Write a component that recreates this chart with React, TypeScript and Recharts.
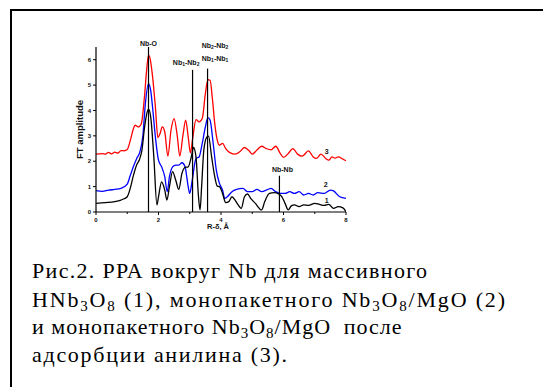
import React from 'react';
import { LineChart, Line, XAxis, YAxis, ReferenceLine, ReferenceDot, Label } from 'recharts';

// Sample 1: bulk HNb3O8 (black)
const sample1R = [0, 0.3, 0.6, 0.8, 0.9, 1.0, 1.1, 1.2, 1.3, 1.4, 1.47, 1.55, 1.62, 1.68, 1.75, 1.85, 1.95, 2.0, 2.1, 2.2, 2.27, 2.35, 2.45, 2.55, 2.65, 2.75, 2.85, 2.95, 3.05, 3.12, 3.2, 3.28, 3.33, 3.38, 3.45, 3.55, 3.6, 3.7, 3.8, 3.88, 3.95, 4.05, 4.15, 4.25, 4.35, 4.45, 4.55, 4.65, 4.75, 4.85, 4.95, 5.1, 5.3, 5.4, 5.55, 5.7, 5.85, 5.95, 6.05, 6.15, 6.25, 6.35, 6.5, 6.65, 6.8, 7.0, 7.15, 7.3, 7.45, 7.6, 7.75, 7.9, 8.0];
const sample1Amp = [0.34, 0.37, 0.41, 0.47, 0.52, 0.6, 0.95, 1.45, 1.85, 2.1, 2.44, 3.3, 3.85, 4.05, 3.75, 2.17, 0.28, 0.6, 1.19, 0.86, 0.47, 1.0, 1.59, 1.26, 0.89, 1.52, 1.76, 1.78, 2.17, 2.54, 2.17, 0.6, 0.08, 1.0, 2.44, 2.96, 2.99, 2.17, 1.39, 1.02, 1.0, 0.73, 0.37, 0.41, 0.6, 0.47, 0.28, 0.14, 0.6, 0.71, 0.54, 0.34, 0.08, 0.41, 0.73, 0.76, 0.71, 0.6, 0.34, 0.08, 0.24, 0.28, 0.21, 0.28, 0.26, 0.34, 0.3, 0.26, 0.3, 0.14, 0.21, 0.16, 0.01];

// Sample 2: single-layer Nb3O8/MgO (blue)
const sample2R = [0, 0.2, 0.4, 0.6, 0.8, 1.0, 1.1, 1.2, 1.3, 1.4, 1.5, 1.58, 1.68, 1.75, 1.82, 1.9, 2.0, 2.1, 2.2, 2.28, 2.35, 2.45, 2.55, 2.65, 2.75, 2.85, 2.95, 3.0, 3.08, 3.2, 3.3, 3.4, 3.5, 3.58, 3.65, 3.75, 3.85, 3.95, 4.05, 4.12, 4.2, 4.35, 4.5, 4.7, 4.85, 5.0, 5.15, 5.3, 5.5, 5.6, 5.75, 5.9, 6.05, 6.2, 6.35, 6.5, 6.65, 6.8, 6.95, 7.1, 7.3, 7.5, 7.6, 7.8, 8.0];
const sample2Amp = [0.84, 0.81, 0.86, 0.89, 0.93, 1.1, 1.45, 1.8, 2.1, 2.35, 3.0, 4.27, 5.06, 4.79, 4.0, 2.96, 2.04, 1.78, 1.39, 0.8, 1.39, 1.78, 1.85, 1.85, 1.94, 1.78, 1.0, 0.73, 1.26, 2.11, 2.17, 2.7, 3.35, 3.72, 3.62, 2.7, 1.65, 1.13, 0.86, 0.54, 0.6, 0.8, 0.89, 0.93, 0.8, 0.8, 0.89, 0.8, 0.89, 0.93, 0.8, 0.73, 0.73, 0.8, 0.73, 0.8, 0.67, 0.73, 0.67, 0.76, 0.73, 0.86, 0.83, 0.6, 0.54];

// Sample 3: Nb3O8/MgO after aniline adsorption (red)
const sample3R = [0, 0.2, 0.3, 0.4, 0.5, 0.6, 0.7, 0.8, 0.9, 1.0, 1.1, 1.2, 1.25, 1.35, 1.45, 1.55, 1.62, 1.68, 1.72, 1.8, 1.9, 1.98, 2.05, 2.12, 2.2, 2.3, 2.4, 2.5, 2.6, 2.68, 2.78, 2.87, 2.95, 3.02, 3.1, 3.2, 3.3, 3.4, 3.5, 3.58, 3.65, 3.72, 3.8, 3.88, 3.95, 4.05, 4.15, 4.3, 4.45, 4.6, 4.75, 4.9, 5.0, 5.15, 5.3, 5.45, 5.6, 5.75, 5.9, 6.0, 6.15, 6.3, 6.45, 6.6, 6.8, 6.95, 7.05, 7.2, 7.35, 7.45, 7.55, 7.65, 7.75, 7.9, 8.0];
const sample3Amp = [2.28, 2.3, 2.28, 2.35, 2.29, 2.36, 2.32, 2.42, 2.41, 2.46, 2.83, 3.29, 3.42, 3.35, 3.48, 4.53, 5.58, 6.17, 6.1, 5.45, 4.14, 2.93, 3.09, 3.35, 3.16, 2.2, 3.22, 3.68, 3.0, 2.2, 3.0, 3.62, 2.96, 2.33, 2.96, 3.64, 3.55, 3.68, 4.66, 5.21, 5.19, 4.53, 3.48, 2.83, 2.63, 2.7, 2.5, 2.33, 2.28, 2.37, 2.54, 2.41, 2.28, 2.44, 2.59, 2.5, 2.45, 2.59, 2.3, 2.15, 2.3, 2.5, 2.28, 2.2, 2.41, 2.17, 2.11, 2.28, 2.11, 2.04, 2.17, 2.12, 2.17, 2.08, 2.02];

// Coordination shell markers
const shellR = [1.68, 3.09, 3.57, 5.87];
const shellTop = [6.5, 5.6, 5.65, 1.43];

// Curve number tags
const tagR = [7.38, 7.35, 7.38];
const tagAmp = [2.38, 1.1, 0.47];
const tagText = ['3', '2', '1'];

const xTicks = [0, 1, 2, 3, 4, 5, 6, 7, 8];
const yTicks = [0, 1, 2, 3, 4, 5, 6];

const toPoints = (r: number[], a: number[]) => r.map((x, i) => ({ r: x, amp: a[i] }));

const SANS = "'Liberation Sans', Arial, sans-serif";
const SERIF = "'Liberation Serif', 'Times New Roman', serif";

const XTick = (props: any) => {
  const { x, y, payload } = props;
  const v = payload.value as number;
  const major = v % 2 === 0;
  return (
    <g>
      <line x1={x} x2={x} y1={y} y2={y + (major ? 3 : 2)} stroke="#000" strokeWidth={1} />
      {major && (
        <text x={x} y={y + 10} textAnchor="middle" fontSize={6} fontWeight="bold" style={{ fontFamily: SANS }} fill="#111">
          {v}
        </text>
      )}
    </g>
  );
};

const labelStyle = { fontSize: 7, fontWeight: 'bold' as const, style: { fontFamily: SANS }, fill: '#111' };

// Text drawn at each shell marker, positioned relative to the top of its line
const shellLabel = (idx: number) => (props: any) => {
  const vb = props.viewBox || {};
  const x = vb.x ?? 0;
  const top = vb.y ?? 0;
  if (idx === 0) {
    return (
      <text x={x} y={top - 1.5} textAnchor="middle" {...labelStyle}>Nb-O</text>
    );
  }
  if (idx === 1) {
    return (
      <text x={x - 6.4} y={top - 5} textAnchor="middle" {...labelStyle}>
        Nb<tspan fontSize={5} dy={1.5}>1</tspan><tspan dy={-1.5}>-Nb</tspan><tspan fontSize={5} dy={1.5}>2</tspan>
      </text>
    );
  }
  if (idx === 2) {
    return (
      <g>
        <text x={x + 7.5} y={top - 21} textAnchor="middle" {...labelStyle}>
          Nb<tspan fontSize={5} dy={1.5}>2</tspan><tspan dy={-1.5}>-Nb</tspan><tspan fontSize={5} dy={1.5}>2</tspan>
        </text>
        <text x={x + 7.5} y={top - 7.7} textAnchor="middle" {...labelStyle}>
          Nb<tspan fontSize={5} dy={1.5}>1</tspan><tspan dy={-1.5}>-Nb</tspan><tspan fontSize={5} dy={1.5}>1</tspan>
        </text>
      </g>
    );
  }
  return (
    <text x={x + 3} y={top - 3.4} textAnchor="middle" {...labelStyle}>Nb-Nb</text>
  );
};

const tagLabel = (text: string) => (props: any) => {
  const vb = props.viewBox || {};
  return (
    <text x={vb.x} y={vb.y + 2.5} textAnchor="middle" fontSize={7} fontWeight="bold" style={{ fontFamily: SANS }} fill="#111">
      {text}
    </text>
  );
};

const capStyle: React.CSSProperties = { fontFamily: SERIF, fontSize: 22 };

const Caption = () => (
  <svg width={543} height={387} style={{ position: 'absolute', left: 0, top: 0 }}>
    <g fill="#000">
      <text x={32} y={278} style={capStyle} textLength={395} lengthAdjust="spacing">Рис.2. РРА вокруг Nb для массивного</text>
      <text x={32} y={307} style={capStyle} textLength={473} lengthAdjust="spacing">
        HNb<tspan fontSize={15} dy={4}>3</tspan><tspan dy={-4}>O</tspan><tspan fontSize={15} dy={4}>8</tspan><tspan dy={-4}>{' (1), монопакетного Nb'}</tspan><tspan fontSize={15} dy={4}>3</tspan><tspan dy={-4}>O</tspan><tspan fontSize={15} dy={4}>8</tspan><tspan dy={-4}>/MgO (2)</tspan>
      </text>
      <text x={32} y={334} style={{ ...capStyle, letterSpacing: 1 }}>
        и монопакетного Nb<tspan fontSize={15} dy={4}>3</tspan><tspan dy={-4}>O</tspan><tspan fontSize={15} dy={4}>8</tspan><tspan dy={-4}>/MgO</tspan><tspan dx={6}>{' после'}</tspan>
      </text>
      <text x={32} y={362} style={capStyle} textLength={255} lengthAdjust="spacing">адсорбции анилина (3).</text>
    </g>
  </svg>
);

export default function App() {
  return (
    <div style={{ position: 'absolute', left: 0, top: 0, width: 543, height: 387, background: '#fff', overflow: 'hidden' }}>
      <div style={{ position: 'absolute', left: 10, top: 9, width: 533, height: 2, background: '#000' }} />
      <div style={{ position: 'absolute', left: 10, top: 9, width: 2, height: 378, background: '#000' }} />
      <div style={{ position: 'absolute', left: 0, top: 0 }}>
        <LineChart width={543} height={250} margin={{ top: 47, right: 197, bottom: 8, left: 66 }}>
          <XAxis
            type="number"
            dataKey="r"
            domain={[0, 8]}
            ticks={xTicks}
            interval={0}
            tickLine={false}
            tickSize={0}
            tickMargin={0}
            tick={<XTick />}
            height={30}
            axisLine={{ stroke: '#000', strokeWidth: 1.2 }}
            allowDataOverflow
          >
            <Label
              content={(p: any) => {
                const vb = p.viewBox || {};
                return (
                  <text x={(vb.x ?? 0) + (vb.width ?? 0) / 2 - 3} y={(vb.y ?? 0) + 17} textAnchor="middle" fontSize={7.5} fontWeight="bold" style={{ fontFamily: SANS }} fill="#111">
                    R-δ, Å
                  </text>
                );
              }}
            />
          </XAxis>
          <YAxis
            type="number"
            domain={[0, 6.5]}
            ticks={yTicks}
            interval={0}
            width={30}
            tickSize={3}
            tickMargin={2}
            tick={{ fontSize: 6, fontWeight: 'bold', fill: '#111', fontFamily: SANS }}
            tickLine={{ stroke: '#000', strokeWidth: 1 }}
            axisLine={{ stroke: '#000', strokeWidth: 1.2 }}
            allowDataOverflow
          >
            <Label
              content={(p: any) => {
                const vb = p.viewBox || {};
                const cx = (vb.x ?? 0) + 13;
                const cy = (vb.y ?? 0) + (vb.height ?? 0) / 2;
                return (
                  <text x={cx} y={cy} transform={`rotate(-90 ${cx} ${cy})`} textAnchor="middle" dominantBaseline="central" fontSize={9.5} fontWeight="bold" style={{ fontFamily: SANS }} fill="#111">
                    FT amplitude
                  </text>
                );
              }}
            />
          </YAxis>
          <Line data={toPoints(sample3R, sample3Amp)} dataKey="amp" type="monotone" stroke="#ff0000" strokeWidth={1.3} dot={false} isAnimationActive={false} />
          <Line data={toPoints(sample2R, sample2Amp)} dataKey="amp" type="monotone" stroke="#0000ff" strokeWidth={1.3} dot={false} isAnimationActive={false} />
          <Line data={toPoints(sample1R, sample1Amp)} dataKey="amp" type="monotone" stroke="#000000" strokeWidth={1.3} dot={false} isAnimationActive={false} />
          {shellR.map((r, i) => (
            <ReferenceLine
              key={`shell-${i}`}
              segment={[{ x: r, y: 0 }, { x: r, y: shellTop[i] }]}
              stroke="#000"
              strokeWidth={1.2}
              ifOverflow="visible"
              label={{ content: shellLabel(i) } as any}
            />
          ))}
          {tagR.map((r, i) => (
            <ReferenceDot key={`tag-${i}`} x={r} y={tagAmp[i]} r={0} stroke="none" fill="none" ifOverflow="visible" label={{ content: tagLabel(tagText[i]) } as any} />
          ))}
        </LineChart>
      </div>
      <Caption />
    </div>
  );
}
